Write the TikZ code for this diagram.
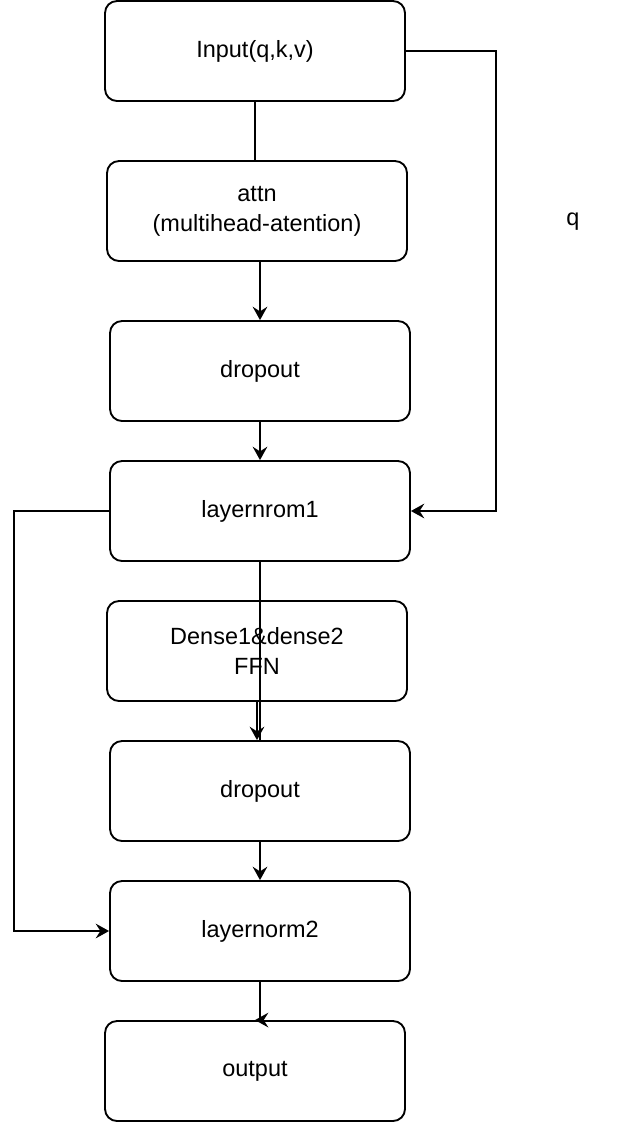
\documentclass[tikz,border=0pt]{standalone}
\usepackage{fontspec}
\setmainfont{Liberation Sans}
\usetikzlibrary{positioning,arrows.meta}
\tikzset{
    block/.style={rectangle, rounded corners=9pt, draw=black, line width=1.4pt, fill=white, minimum width=225pt, minimum height=75pt, align=center, inner sep=0pt, font=\fontsize{17.6}{22.5}\selectfont},
    flow/.style={draw=black, line width=1.4pt},
    flowarrow/.style={flow, -{Stealth[length=10pt,width=11pt,inset=3.5pt]}}
}
\begin{document}
\begin{tikzpicture}[x=0.75pt, y=-0.75pt]
        \useasboundingbox (0,0) rectangle (636,1122);

        % --- KHỐI ---
        \node[block] (input) at (255,51) {Input(q,k,v)};
        \node[block] (attn) at (257,211) {attn\\(multihead-atention)};
        \node[block] (drop1) at (260,371) {dropout};
        \node[block] (norm1) at (260,511) {layernrom1};
        \node[block] (dense) at (257,651) {Dense1\&dense2\\FFN};
        \node[block] (drop2) at (260,791) {dropout};
        \node[block] (norm2) at (260,931) {layernorm2};
        \node[block] (out) at (255,1071) {output};

        % nhãn q
        \node[font=\fontsize{17.6}{22.5}\selectfont] (qlabel) at (573,222) {q};

        % --- DUONG NOI ---
        \draw[flow] (input.south) -- (input.south |- attn.north);
        \draw[flowarrow] (attn.south -| drop1.north) -- (drop1.north);
        \draw[flowarrow] (drop1.south) -- (norm1.north);
        \draw[flowarrow] (input.east) -- ++(90,0) |- (norm1.east);
        \draw[flow] (norm1.south) -- (drop2.north);
        \draw[flowarrow] (dense.south) -- (dense.south |- drop2.north);
        \draw[flowarrow] (drop2.south) -- (norm2.north);
        \draw[flowarrow] (norm1.west) -- ++(-95,0) |- (norm2.west);
        \draw[flowarrow] (norm2.south) |- (out.north);

\end{tikzpicture}
\end{document}
